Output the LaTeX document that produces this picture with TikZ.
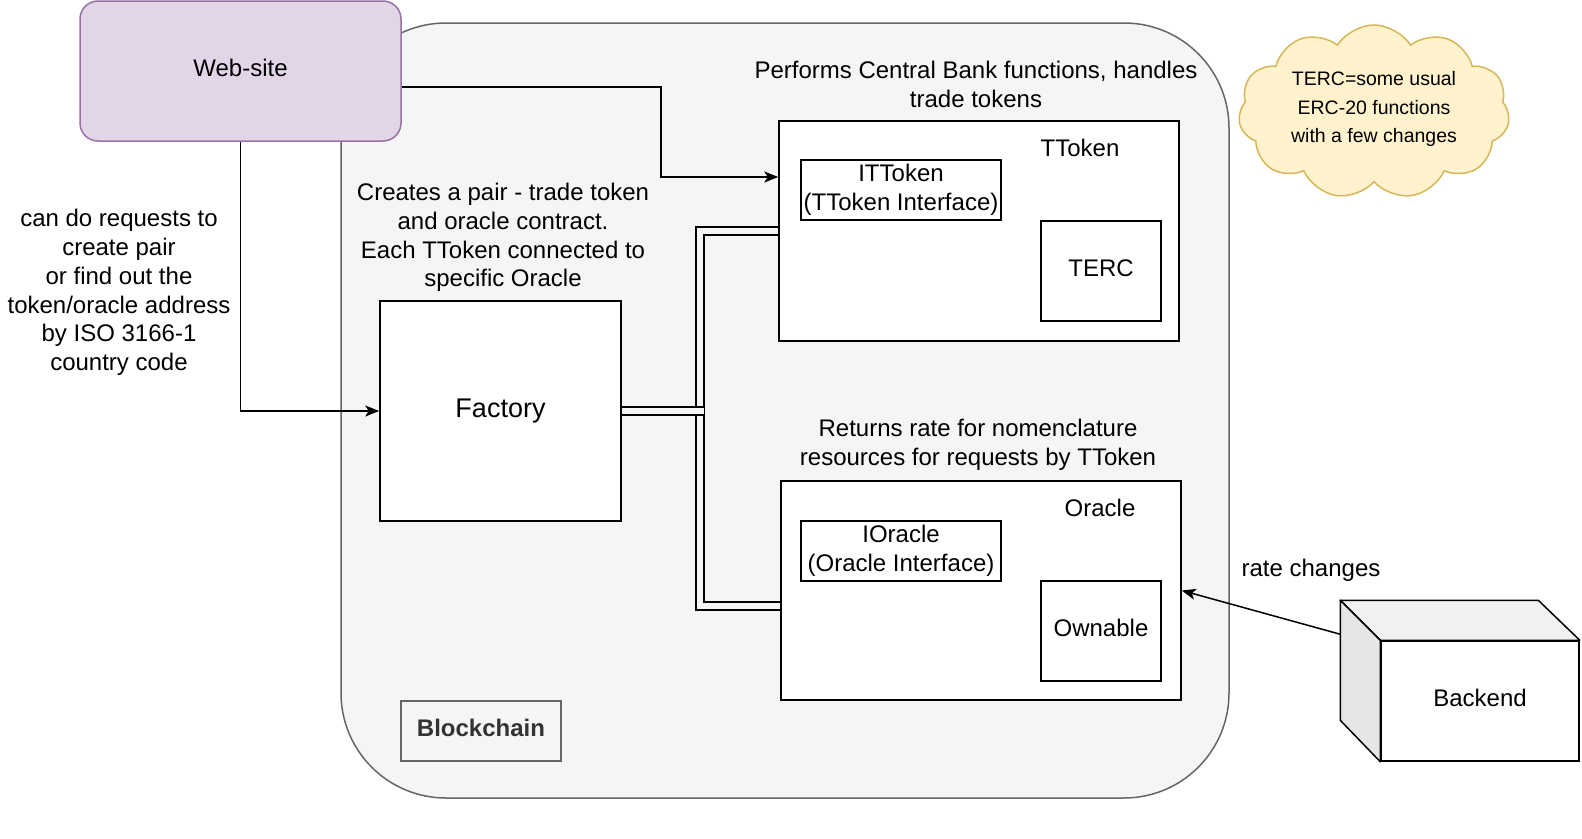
\documentclass[tikz,border=0pt]{standalone}
\usepackage{fontspec}
\setmainfont{Liberation Sans}
\usetikzlibrary{arrows.meta,shapes.symbols,calc}
\definecolor{bgc}{HTML}{F5F5F5}
\definecolor{bgline}{HTML}{666666}
\definecolor{webfill}{HTML}{E1D5E7}
\definecolor{webline}{HTML}{9673A6}
\definecolor{cloudfill}{HTML}{FFF2CC}
\definecolor{cloudline}{HTML}{D6B656}
\definecolor{darktext}{HTML}{333333}
\definecolor{cubetop}{HTML}{F1F1F1}
\definecolor{cubeside}{HTML}{E6E6E6}
\newcommand\txtA{\fontsize{24}{28.85}\selectfont}
\newcommand\txtB{\fontsize{27}{32}\selectfont}
\newcommand\txtC{\fontsize{19.5}{28.5}\selectfont}
\begin{document}
\begin{tikzpicture}[x=1pt,y=-1pt,line width=1.5pt,
  box/.style={draw=black,fill=white,rectangle,inner sep=0pt,font=\txtA,align=center},
  lift/.style={text depth=6.5pt},
  lbl/.style={align=center,font=\txtA,inner sep=0pt},
  arr/.style={-{Stealth[length=14pt,width=11pt,inset=3.5pt]},line width=1.5pt},
  dbl/.style={double=bgc,double distance=6.5pt,line width=1.5pt}]
\useasboundingbox (0,0) rectangle (1582,838);

% container
\node[draw=bgline,fill=bgc,rectangle,rounded corners=105pt,minimum width=888pt,minimum height=775pt,line width=1.5pt] (chain) at (785,410.5) {};

% web-site
\node[draw=webline,fill=webfill,rectangle,rounded corners=18pt,minimum width=321pt,minimum height=140pt,font=\txtA,lift] (web) at (240.5,71) {Web-site};

% boxes
\node[box,minimum width=241pt,minimum height=220pt,font=\txtB] (factory) at (500.5,411) {Factory};
\node[box,minimum width=400pt,minimum height=220pt] (tto) at (979,231) {};
\node[box,minimum width=200pt,minimum height=60pt] (itt) at (901,190) {ITToken\\(TToken Interface)};
\node[box,minimum width=120pt,minimum height=100pt,lift] (terc) at (1101,271) {TERC};
\node[box,minimum width=400pt,minimum height=219pt] (ora) at (981,590.5) {};
\node[box,minimum width=200pt,minimum height=60pt] (ior) at (901,551) {IOracle\\(Oracle Interface)};
\node[box,minimum width=120pt,minimum height=100pt,lift] (own) at (1101,631) {Ownable};

\node[lbl] (ttolbl) at (1080,148) {TToken};
\node[lbl] (oralbl) at (1100,508) {Oracle};

% blockchain label
\node[draw=bgline,rectangle,minimum width=160pt,minimum height=60pt,font=\txtA\bfseries,text=darktext,lift] (bclbl) at (481,731) {Blockchain};

% texts
\node[lbl] (t1) at (976,84) {Performs Central Bank functions, handles\\trade tokens};
\node[lbl] (t2) at (503,237.5) {Creates a pair - trade token\\and oracle contract.\\Each TToken connected to\\specific Oracle};
\node[lbl] (t3) at (978,444.5) {Returns rate for nomenclature\\resources for requests by TToken};
\node[lbl] (t4) at (119,292.5) {can do requests to\\create pair\\or find out the\\token/oracle address\\by ISO 3166-1\\country code};
\node[lbl] (t5) at (1311,570) {rate changes};

% cloud
\node[cloud,cloud puffs=11,cloud puff arc=115,aspect=1.6,draw=cloudline,fill=cloudfill,minimum width=271pt,minimum height=174pt,inner sep=0pt] (cloud) at (1374,112) {};
\node[font=\txtC,align=center,inner sep=0pt] (cloudtxt) at ([yshift=3pt]cloud.center) {TERC=some usual\\ERC-20 functions\\with a few changes};

% backend cube
\node[box,minimum width=198pt,minimum height=120pt,lift] (backend) at (1480,701) {Backend};
\draw[fill=cubetop,line join=round] (backend.north west) -- ++(-40,-40) -- ++(198,0) -- (backend.north east) -- cycle;
\draw[fill=cubeside,line join=round] (backend.north west) -- ++(-40,-40) -- ++(0,120) -- (backend.south west) -- cycle;
\coordinate (bkin) at ($(backend.north west)+(-40,-6)$);

% connectors
\coordinate (junc) at (700,411);
\coordinate (juncend) at (703.5,411);
\draw[dbl] (tto.west) -| (junc) |- ([yshift=-15.5pt]ora.west);
\draw[dbl] (factory.east) -- (juncend);
\draw[arr] ([yshift=-16pt]web.east) -| (661,130) |- ([yshift=54pt]tto.west);
\draw[arr] (web.south) |- (factory.west);
\draw[arr] (bkin) -- (ora.east);
\end{tikzpicture}
\end{document}
